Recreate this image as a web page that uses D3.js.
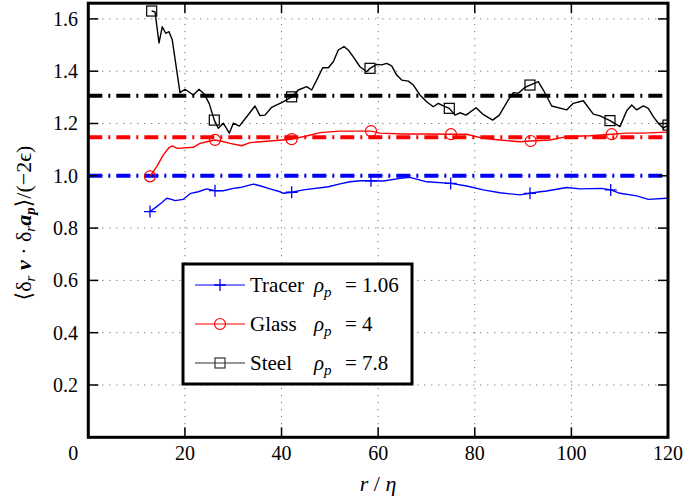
<!DOCTYPE html>
<html><head><meta charset="utf-8">
<script src="https://cdn.jsdelivr.net/npm/d3@7"></script>
<style>body{margin:0;background:#fff}</style>
</head><body><svg id="c" width="684" height="504" font-family="'Liberation Serif', 'DejaVu Serif', 'Noto Serif', serif"></svg>
<script>
// ---- data ----
const xTicks = [0, 20, 40, 60, 80, 100, 120];
const yTicks = [0.2, 0.4, 0.6, 0.8, 1.0, 1.2, 1.4, 1.6];
const refLevels = [1.0, 1.147, 1.306]; // tracer, glass, steel reference values

const tracerX = [12.77,14.16,15.19,16.23,17.26,17.95,19.67,21.2,22.77,24.51,26.23,27.95,30.02,31.4,34.16,35.54,37.61,39.68,40.37,42.1,44.51,49.68,52.1,54.17,56.24,58.52,61.07,64.52,66.59,70.05,75.02,78.33,81.77,85.22,89.36,91.43,93.5,94.89,99.03,101.79,106.28,108.14,110.06,113.52,115.92,119.73,120];
const tracerY = [0.863,0.882,0.897,0.914,0.910,0.905,0.910,0.933,0.939,0.950,0.943,0.943,0.952,0.955,0.968,0.962,0.950,0.939,0.933,0.937,0.946,0.958,0.969,0.977,0.981,0.981,0.980,0.990,0.994,0.977,0.971,0.961,0.946,0.935,0.927,0.933,0.939,0.942,0.955,0.950,0.952,0.946,0.933,0.923,0.910,0.914,0.914];
const tracerMarks = [12.77,26.23,42.1,58.52,75.02,91.43,108.14];

const glassX = [12.77,14.16,15.53,16.77,17.39,18.42,21.74,23.12,24.51,26.23,27.61,29.33,31.75,33.47,37.61,42.1,45.21,47.96,52.1,56.24,58.52,60.38,65.2,70.05,75.08,78.33,81.77,85.22,89.36,91.58,95.57,99.03,103.85,108.35,111.45,114.89,119.73,120];
const glassY = [0.998,1.035,1.080,1.109,1.114,1.105,1.109,1.124,1.130,1.137,1.132,1.124,1.115,1.127,1.133,1.140,1.152,1.165,1.171,1.171,1.171,1.163,1.160,1.160,1.159,1.159,1.143,1.137,1.130,1.133,1.137,1.150,1.153,1.159,1.163,1.163,1.167,1.167];
const glassMarks = [12.77,26.23,42.1,58.52,75.08,91.58,108.35];

const steelX = [13.12,13.81,14.64,15.32,16.02,16.71,17.39,18.09,18.98,20.02,21.74,22.92,24.0,25.05,26.08,26.91,27.95,29.19,30.02,31.26,32.79,34.51,35.54,36.58,37.96,39.0,40.04,42.1,43.47,45.21,46.24,47.28,48.52,49.68,50.72,51.75,52.93,53.82,54.86,56.24,57.63,58.31,59.7,60.73,61.77,62.8,63.84,64.88,66.24,67.28,68.66,70.05,71.42,72.45,73.49,74.73,75.91,76.94,78.19,80.26,81.64,83.71,85.08,86.94,87.98,89.01,90.4,91.43,93.15,94.19,95.93,99.03,100.4,102.47,104.54,105.93,107.99,110.06,111.45,112.49,113.52,114.89,115.92,116.96,117.99,119.03,120];
const steelY = [1.630,1.627,1.508,1.570,1.545,1.551,1.519,1.430,1.318,1.331,1.309,1.331,1.313,1.275,1.213,1.182,1.201,1.163,1.201,1.190,1.226,1.267,1.230,1.232,1.262,1.271,1.280,1.302,1.328,1.341,1.328,1.366,1.413,1.413,1.436,1.481,1.494,1.481,1.455,1.417,1.398,1.411,1.426,1.424,1.430,1.420,1.385,1.366,1.362,1.347,1.309,1.283,1.264,1.277,1.267,1.258,1.232,1.241,1.232,1.260,1.236,1.213,1.232,1.290,1.318,1.316,1.338,1.347,1.360,1.328,1.267,1.252,1.277,1.287,1.236,1.229,1.211,1.188,1.249,1.271,1.252,1.267,1.258,1.226,1.201,1.182,1.194];
const steelMarks = [13.12,26.08,42.1,58.31,74.73,91.43,107.99,120];

const seriesNames = ["Tracer", "Glass", "Steel"];
const densities = ["1.06", "4", "7.8"];

// ---- layout ----
const L = 88.3, R = 668, T = 3.2, B = 437.3;
const svg = d3.select("#c");
const x = d3.scaleLinear().domain([0, 120]).range([L, R]);
const y = d3.scaleLinear().domain([0, 1.66]).range([B, T]);
const colors = ["#0000ff", "#ff0000", "#000000"];

svg.append("defs").append("clipPath").attr("id","clip")
  .append("rect").attr("x",L).attr("y",T).attr("width",R-L).attr("height",B-T);

// grid
const g = svg.append("g");
g.selectAll(".hg").data(yTicks).enter().append("line")
  .attr("x1",L).attr("x2",R).attr("y1",d=>y(d)).attr("y2",d=>y(d))
  .attr("stroke","#555").attr("stroke-width",1).attr("stroke-dasharray","1,6");
g.selectAll(".vg").data(xTicks.filter(d=>d>0&&d<120)).enter().append("line")
  .attr("y1",T).attr("y2",B).attr("x1",d=>x(d)).attr("x2",d=>x(d))
  .attr("stroke","#555").attr("stroke-width",1).attr("stroke-dasharray","1,6");

// reference dash-dot lines
g.selectAll(".ref").data(refLevels).enter().append("line")
  .attr("x1",L).attr("x2",R).attr("y1",d=>y(d)).attr("y2",d=>y(d))
  .attr("stroke",(d,i)=>colors[i]).attr("stroke-width",4)
  .attr("stroke-dasharray","14,6,2,6").attr("clip-path","url(#clip)");

// curves
const series = [
  {xs: tracerX, ys: tracerY, marks: tracerMarks, sym: "plus"},
  {xs: glassX, ys: glassY, marks: glassMarks, sym: "circle"},
  {xs: steelX, ys: steelY, marks: steelMarks, sym: "square"}
];
const line = d3.line().x(d=>x(d[0])).y(d=>y(d[1]));
function drawSym(sel, sym, cx, cy, col){
  if(sym==="plus"){
    sel.append("path").attr("d",`M${cx-6},${cy}H${cx+6}M${cx},${cy-6}V${cy+6}`)
      .attr("stroke",col).attr("stroke-width",1.3).attr("fill","none");
  } else if(sym==="circle"){
    sel.append("circle").attr("cx",cx).attr("cy",cy).attr("r",5.5)
      .attr("stroke",col).attr("stroke-width",1.2).attr("fill","none");
  } else {
    sel.append("rect").attr("x",cx-5).attr("y",cy-5).attr("width",10).attr("height",10)
      .attr("stroke",col).attr("stroke-width",1.2).attr("fill","none");
  }
}
series.forEach((s,i)=>{
  const pts = s.xs.map((v,k)=>[v, s.ys[k]]);
  const gg = svg.append("g").attr("clip-path","url(#clip)");
  gg.append("path").attr("d", line(pts)).attr("fill","none")
    .attr("stroke",colors[i]).attr("stroke-width",1.4).attr("stroke-linejoin","round");
  pts.filter(p=>s.marks.includes(p[0])).forEach(p=>drawSym(gg, s.sym, x(p[0]), y(p[1]), colors[i]));
});

// frame
svg.append("rect").attr("x",L).attr("y",T).attr("width",R-L).attr("height",B-T)
  .attr("fill","none").attr("stroke","#000").attr("stroke-width",3);

// ticks (inward)
const tk = svg.append("g").attr("stroke","#000").attr("stroke-width",1.5);
xTicks.filter(d=>d>0&&d<120).forEach(d=>{
  tk.append("line").attr("x1",x(d)).attr("x2",x(d)).attr("y1",B).attr("y2",B-10);
  tk.append("line").attr("x1",x(d)).attr("x2",x(d)).attr("y1",T).attr("y2",T+10);
});
yTicks.forEach(d=>{
  tk.append("line").attr("x1",L).attr("x2",L+10).attr("y1",y(d)).attr("y2",y(d));
  tk.append("line").attr("x1",R).attr("x2",R-10).attr("y1",y(d)).attr("y2",y(d));
});

// tick labels
svg.selectAll(".xl").data(xTicks).enter().append("text")
  .attr("x",d=>d===0 ? x(d)-15 : x(d)).attr("y",460).attr("text-anchor","middle")
  .attr("font-size",20).text(d=>d);
svg.selectAll(".yl").data(yTicks).enter().append("text")
  .attr("x",78).attr("y",d=>y(d)+7).attr("text-anchor","end")
  .attr("font-size",20).text(d=>d.toFixed(1));

// axis labels
const xl = svg.append("text").attr("x",378).attr("y",491).attr("text-anchor","middle").attr("font-size",22);
xl.append("tspan").attr("font-style","italic").text("r");
xl.append("tspan").text(" / ");
xl.append("tspan").attr("font-style","italic").text("η");

const yl = svg.append("text").attr("transform","translate(31,223) rotate(-90)")
  .attr("text-anchor","middle").attr("font-size",22);
yl.append("tspan").text("⟨δ");
yl.append("tspan").attr("font-style","italic").attr("font-size",15).attr("dy",4).text("r");
yl.append("tspan").attr("font-weight","bold").attr("font-style","italic").attr("dy",-4).text(" v");
yl.append("tspan").text(" · δ");
yl.append("tspan").attr("font-style","italic").attr("font-size",15).attr("dy",4).text("r");
yl.append("tspan").attr("font-weight","bold").attr("font-style","italic").attr("dy",-4).text("a");
yl.append("tspan").attr("font-weight","bold").attr("font-style","italic").attr("font-size",15).attr("dy",4).text("p");
yl.append("tspan").attr("dy",-4).text("⟩/(−2ϵ)");

// legend
const lg = svg.append("g");
lg.append("rect").attr("x",183).attr("y",264).attr("width",229).attr("height",120)
  .attr("fill","#fff").attr("stroke","#000").attr("stroke-width",3);
const legY = [285, 324, 363];
seriesNames.forEach((n,i)=>{
  const cy = legY[i];
  lg.append("line").attr("x1",195).attr("x2",245).attr("y1",cy).attr("y2",cy)
    .attr("stroke", i===2 ? "#333" : colors[i]).attr("stroke-width",1.2);
  drawSym(lg, series[i].sym, 220, cy, i===2 ? "#333" : colors[i]);
  lg.append("text").attr("x",250).attr("y",cy+7).attr("font-size",21).text(n);
  const t = lg.append("text").attr("x",314).attr("y",cy+7).attr("font-size",21);
  t.append("tspan").attr("font-style","italic").text("ρ");
  t.append("tspan").attr("font-style","italic").attr("font-size",15).attr("dy",5).text("p");
  lg.append("text").attr("x",345).attr("y",cy+7).attr("font-size",21).text("= " + densities[i]);
});
</script></body></html>
